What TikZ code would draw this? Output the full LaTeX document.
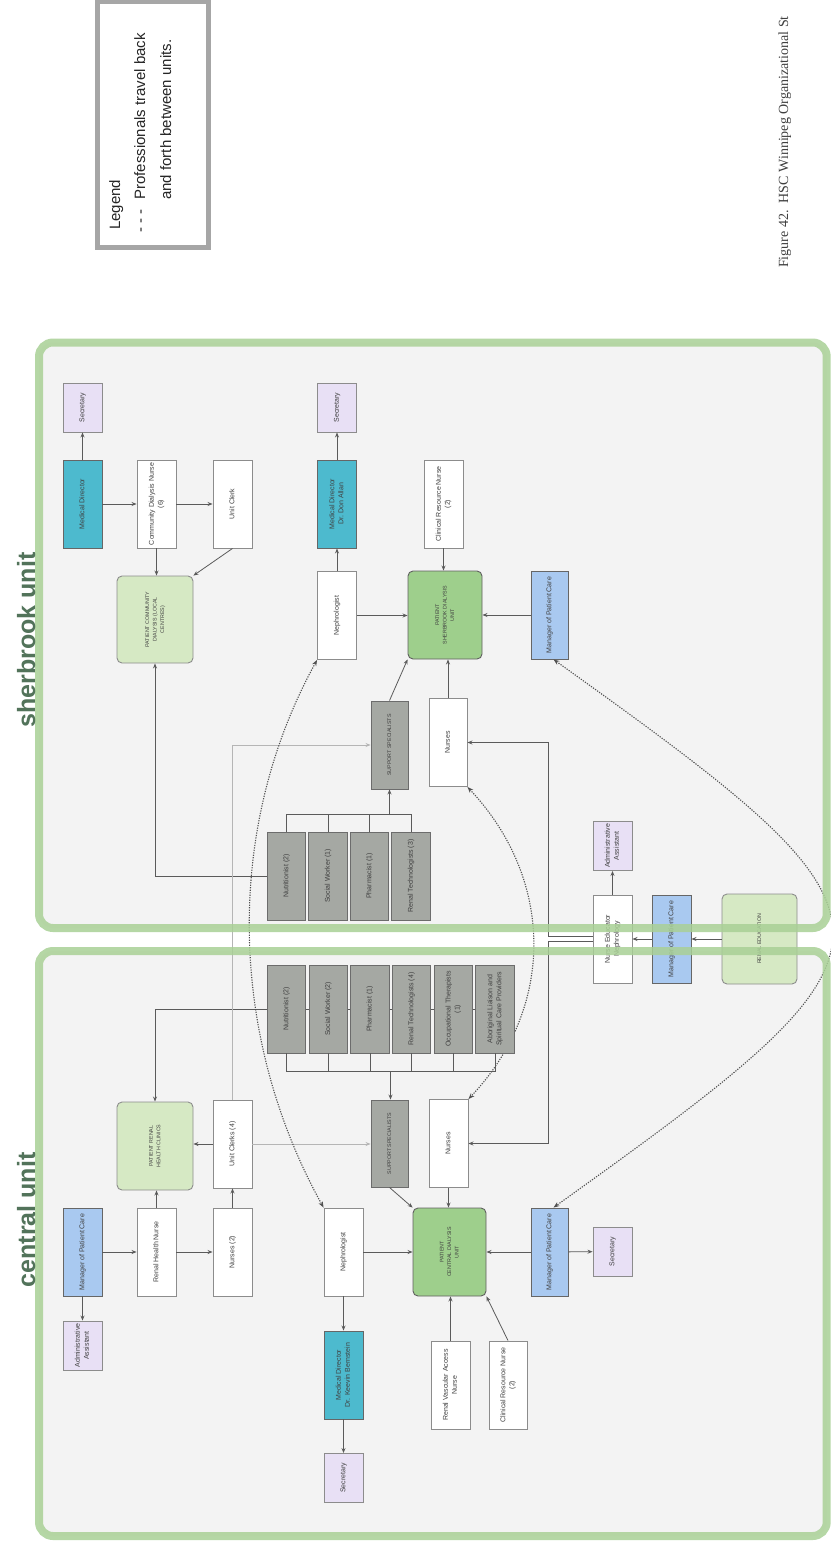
\documentclass[tikz,border=0pt]{standalone}
\usepackage{fontspec}
\setmainfont{Liberation Sans}
\newfontfamily\capfont{Liberation Serif}
\usepackage{graphicx}
\usetikzlibrary{arrows.meta,calc}
\definecolor{lav}{HTML}{E8E0F5}
\definecolor{tealc}{HTML}{4DBACE}
\definecolor{bluec}{HTML}{A9C9F0}
\definecolor{lgr}{HTML}{D6E9C4}
\definecolor{dgr}{HTML}{9ECF8C}
\definecolor{grayb}{HTML}{A5A8A3}
\definecolor{panelc}{HTML}{F3F3F3}
\definecolor{pbord}{HTML}{A9D096}
\definecolor{bordc}{HTML}{8C8C8C}
\definecolor{txtc}{HTML}{404040}
\definecolor{lnc}{HTML}{5A5A5A}
\definecolor{lgl}{HTML}{B5B5B5}
\definecolor{titlec}{HTML}{52735A}
\definecolor{legc}{HTML}{A6A6A6}
\newcommand{\rt}[1]{\rotatebox{90}{\begin{tabular}{@{}c@{}}#1\end{tabular}}}
\pgfdeclarelayer{bg}
\pgfdeclarelayer{behind}
\pgfdeclarelayer{top}
\pgfsetlayers{bg,behind,main,top}
\begin{document}
\begin{tikzpicture}[x=1pt,y=-1pt,
  box/.style={draw=bordc, line width=0.9pt, inner sep=0pt, minimum width=39pt, minimum height=88pt, text=txtc, font=\fontsize{7}{9}\selectfont},
  wbox/.style={box, fill=white},
  lavb/.style={box, fill=lav, minimum height=49pt},
  tealb/.style={box, fill=tealc, draw=gray!80!black},
  blueb/.style={box, fill=bluec, draw=gray!80!black},
  gbox/.style={box, fill=grayb, draw=gray!85!black, minimum width=38.5pt},
  caps/.style={font=\fontsize{5.3}{7.5}\selectfont},
  lgreen/.style={box, caps, fill=lgr, rounded corners=5pt, minimum width=76pt},
  dgreen/.style={box, caps, fill=dgr, rounded corners=5pt, draw=gray!75!black},
  ln/.style={draw=lnc, line width=0.8pt},
  arr/.style={ln, -{Stealth[length=5pt,width=4pt]}},
  dotarr/.style={draw=lnc!90!black, line width=1.1pt, dash pattern=on 1.2pt off 1.3pt, {Stealth[length=6pt,width=4.5pt]}-{Stealth[length=6pt,width=4.5pt]}},
  pborder/.style={draw=pbord, line width=8pt, rounded corners=14pt, opacity=0.85},
  titlestyle/.style={rotate=90, anchor=base, inner sep=0pt, text=titlec, font=\bfseries\fontsize{25}{25}\selectfont},
  legtext/.style={rotate=90, anchor=base west, inner sep=0pt, font=\fontsize{15}{18}\selectfont, text=black!85}
]
\useasboundingbox (0,0) rectangle (830,1544);
\begin{pgfonlayer}{bg}
  \fill[white] (0,0) rectangle (830,1544);
  \fill[panelc, rounded corners=14pt] (39,342.5) rectangle (826.7,928);
  \fill[panelc, rounded corners=14pt] (39,951) rectangle (826.7,1536);
\end{pgfonlayer}

% ---------- Sherbrook unit ----------
\node[lavb] (sSec) at (82.5,407.5) {\rt{Secretary}};
\node[tealb] (sMD) at (82.5,504) {\rt{Medical Director}};
\node[wbox] (sCDN) at (156.5,504) {\rt{Community Dialysis Nurse\\(6)}};
\node[wbox] (sUC) at (232.5,504) {\rt{Unit Clerk}};
\node[lgreen, minimum height=87pt] (sPCD) at (155,619.5) {\rt{PATIENT COMMUNITY\\DIALYSIS (LOCAL\\CENTRES)}};
\node[lavb] (sSec2) at (337,407.5) {\rt{Secretary}};
\node[tealb] (sMD2) at (337,504) {\rt{Medical Director\\Dr. Don Allan}};
\node[wbox] (sNeph) at (337,615.5) {\rt{Nephrologist}};
\node[wbox] (sCRN) at (443.5,504) {\rt{Clinical Resource Nurse\\(2)}};
\node[dgreen, minimum width=74pt] (sPat) at (445,615) {\rt{PATIENT\\SHERBROOK DIALYSIS\\UNIT}};
\node[blueb, minimum width=37pt] (sMgr) at (549.5,615) {\rt{Manager of Patient Care}};
\node[gbox, caps, minimum width=37pt] (sSS) at (389.5,745) {\rt{SUPPORT SPECIALISTS}};
\node[wbox, minimum width=38pt] (sNur) at (448,742.5) {\rt{Nurses}};
\node[gbox] (sNut) at (286.5,876) {\rt{Nutritionist (2)}};
\node[gbox] (sSW) at (328,876) {\rt{Social Worker (1)}};
\node[gbox] (sPh) at (369.5,876) {\rt{Pharmacist (1)}};
\node[gbox] (sRT) at (411,876) {\rt{Renal Technologists (3)}};

% ---------- shared ----------
\node[wbox] (NE) at (612.5,939) {\rt{Nurse Educator\\Nephrology}};
\node[lavb] (AA) at (612.5,846) {\rt{Administrative\\Assistant}};
\node[blueb] (mMgr) at (671.5,939) {\rt{Manager of Patient Care}};
\node[lgreen, minimum width=75pt, minimum height=90pt] (RE) at (759.5,939) {\rt{RENAL EDUCATION}};

% ---------- Central unit ----------
\node[gbox] (cNut) at (286.5,1009) {\rt{Nutritionist (2)}};
\node[gbox] (cSW) at (328.2,1009) {\rt{Social Worker (2)}};
\node[gbox] (cPh) at (369.9,1009) {\rt{Pharmacist (1)}};
\node[gbox] (cRT) at (411.6,1009) {\rt{Renal Technologists (4)}};
\node[gbox] (cOT) at (453.3,1009) {\rt{Occupational Therapists\\(1)}};
\node[gbox] (cAL) at (495,1009) {\rt{Aboriginal Liaison and\\Spiritual Care Providers}};
\node[blueb] (cMgrL) at (82.5,1252) {\rt{Manager of Patient Care}};
\node[lavb] (cAA) at (82.5,1345.5) {\rt{Administrative\\Assistant}};
\node[wbox] (cRHN) at (156.5,1252) {\rt{Renal Health Nurse}};
\node[wbox] (cN2) at (232.5,1252) {\rt{Nurses (2)}};
\node[wbox] (cUC) at (232.5,1144) {\rt{Unit Clerks (4)}};
\node[lgreen] (cPRH) at (155,1146) {\rt{PATIENT RENAL\\HEALTH CLINICS}};
\node[gbox, caps, minimum width=37pt, minimum height=87pt] (cSS) at (389.5,1143.5) {\rt{SUPPORT SPECIALISTS}};
\node[wbox] (cNur) at (448.5,1143.5) {\rt{Nurses}};
\node[dgreen, minimum width=73pt] (cPat) at (449.5,1252) {\rt{PATIENT\\CENTRAL DIALYSIS\\UNIT}};
\node[wbox] (cNeph) at (343.5,1252) {\rt{Nephrologist}};
\node[tealb] (cMD) at (343.5,1375) {\rt{Medical Director\\Dr. Keevin Bernstein}};
\node[lavb] (cSec) at (343.5,1478) {\rt{Secretary}};
\node[wbox] (cRVA) at (450.5,1385) {\rt{Renal Vascular Access\\Nurse}};
\node[wbox, minimum width=38pt] (cCRN) at (508,1385) {\rt{Clinical Resource Nurse\\(2)}};
\node[blueb, minimum width=37pt] (cMgr) at (549.5,1252) {\rt{Manager of Patient Care}};
\node[lavb] (cSec2) at (612.5,1251.5) {\rt{Secretary}};

% ---------- connectors: sherbrook ----------
\draw[arr] (sMD) -- (sSec);
\draw[arr] (sMD) -- (sCDN);
\draw[arr] (sCDN) -- (sUC);
\draw[arr] (sCDN.south) -- (sCDN.south |- sPCD.north);
\draw[arr] (sUC.south) -- (sPCD.north east);
\draw[arr] (sNut.west) -| (sPCD.south);
\draw[arr] (sNeph) -- (sMD2);
\draw[arr] (sMD2) -- (sSec2);
\draw[arr] (sNeph.east) -- (sNeph.east -| sPat.west);
\draw[arr] (sCRN.south) -- (sCRN.south |- sPat.north);
\draw[arr] (sMgr) -- (sPat);
\draw[arr] (sSS.north) -- (sPat.south west);
\draw[arr] (sNur.north) -- (sNur.north |- sPat.south);
\draw[ln] (sNut.north) -- ++(0,-17) -| (sRT.north);
\draw[ln] (sSW.north) -- ++(0,-17);
\draw[ln] (sPh.north) -- ++(0,-17);
\coordinate (sbus) at (389.5,815);
\draw[arr] (sbus) -- (sSS.south);
\draw[arr, draw=lgl] (cUC.north) |- (sSS.west);
\draw[arr, draw=lgl] (cUC.east) -- (cUC.east -| cSS.west);

% ---------- connectors: shared ----------
\draw[arr] ([yshift=2.5pt]NE.west) -- ++(-44,0) |- (sNur.east);
\draw[arr] ([yshift=-2.5pt]NE.west) -- ++(-44,0) |- (cNur.east);
\draw[arr] (NE) -- (AA);
\draw[arr] (mMgr) -- (NE);
\draw[arr] (RE) -- (mMgr);

% ---------- connectors: central ----------
\draw[ln] (cNut.south) -- ++(0,18) -| (cAL.south);
\draw[ln] (cSW.south) -- ++(0,18);
\draw[ln] (cPh.south) -- ++(0,18);
\draw[ln] (cRT.south) -- ++(0,18);
\draw[ln] (cOT.south) -- ++(0,18);
\coordinate (cbus) at (390.5,1071);
\draw[arr] (cbus) -- (cbus |- cSS.north);
\begin{pgfonlayer}{behind}
  \draw[arr] (cAL.center) -- (cNut.center) -| (cPRH.north);
  \draw[dotarr] (sNur.south east) .. controls (555,880) and (555,1008) .. (cNur.north east);
\end{pgfonlayer}
\draw[arr] (cMgrL) -- (cAA);
\draw[arr] (cMgrL) -- (cRHN);
\draw[arr] (cRHN) -- (cN2);
\draw[arr] (cRHN.north) -- (cRHN.north |- cPRH.south);
\draw[arr] (cN2) -- (cUC);
\draw[arr] (cUC.west) -- (cUC.west -| cPRH.east);
\draw[arr] (cSS.south) -- (cPat.north west);
\draw[arr] (cNur.south) -- (cNur.south |- cPat.north);
\draw[arr] (cNeph) -- (cPat);
\draw[arr] (cNeph) -- (cMD);
\draw[arr] (cMD) -- (cSec);
\draw[arr] (cRVA.north) -- (cRVA.north |- cPat.south);
\draw[arr] (cCRN.north) -- (cPat.south east);
\draw[arr] (cMgr) -- (cPat);
\draw[arr] (cMgr) -- (cSec2);

% ---------- dotted travel links ----------
\draw[dotarr] ([xshift=4pt]sMgr.south) .. controls (925,925) and (925,942) .. ([xshift=4pt]cMgr.north);
\draw[dotarr] (sNeph.south west) .. controls (223.5,830) and (229,1037) .. (cNeph.north west);

% ---------- panel borders and titles ----------
\begin{pgfonlayer}{top}
  \draw[pborder] (39,342.5) rectangle (826.7,928);
  \draw[pborder] (39,951) rectangle (826.7,1536);
  \node[titlestyle] (tS) at (35,640) {sherbrook unit};
  \node[titlestyle] (tC) at (35,1220) {central unit};
\end{pgfonlayer}

% ---------- legend ----------
\draw[draw=legc, line width=5pt, fill=white] (97.5,2) rectangle (208.5,247.5);
\node[legtext] (lg1) at (120,230) {Legend};
\node[legtext] (lg2) at (145,233) {- - -};
\node[legtext] (lg3) at (145,200) {Professionals travel back};
\node[legtext] (lg4) at (171,200) {and forth between units.};

% ---------- caption ----------
\node[rotate=90, anchor=base west, inner sep=0pt, font=\capfont\fontsize{14}{14}\selectfont, text=black!75] (cap) at (788,268) {Figure 42.\ \ HSC Winnipeg Organizational St};
\end{tikzpicture}
\end{document}
